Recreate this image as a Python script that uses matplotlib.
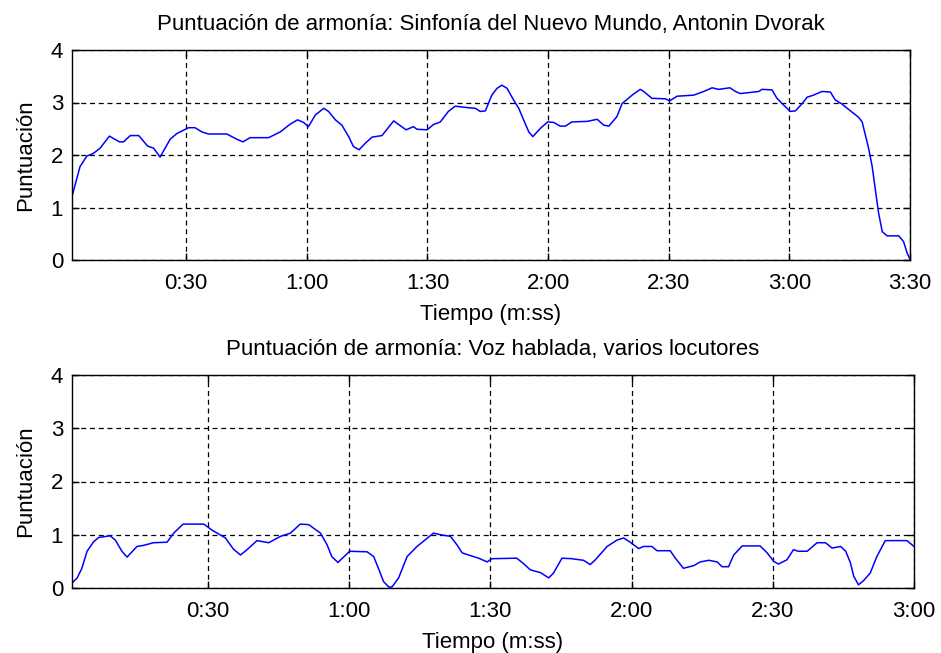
import matplotlib
matplotlib.use("Agg")
import matplotlib.pyplot as plt
from matplotlib.ticker import FuncFormatter

plt.rcParams['font.family'] = ['Liberation Sans', 'DejaVu Sans']

# Sinfonía del Nuevo Mundo (tiempo en segundos, puntuación)
t_sinf = [1.7, 3.6, 5.3, 6.9, 8.6, 10.9, 13.4, 14.4, 16.1, 18.2, 20.4, 21.9, 23.5,
          25.2, 26.0, 27.7, 30.6, 32.2, 33.9, 35.5, 40.1, 42.6, 44.1, 45.9, 50.5,
          53.4, 55.9, 57.7, 59.2, 60.4, 62.1, 64.2, 65.4, 67.1, 68.7, 70.4, 71.6,
          73.0, 74.5, 76.2, 78.7, 81.6, 83.2, 84.7, 86.5, 87.4, 89.9, 91.5, 93.2,
          95.2, 96.9, 100.2, 101.9, 103.1, 104.4, 106.0, 107.3, 108.5, 109.8, 111.4,
          112.7, 113.9, 115.2, 116.2, 118.1, 119.9, 121.4, 123.0, 124.3, 125.9,
          129.7, 132.2, 133.8, 135.1, 137.1, 138.4, 140.9, 142.9, 143.8, 145.8,
          149.2, 150.2, 152.1, 156.2, 158.7, 160.8, 162.4, 165.2, 166.6, 167.8,
          172.4, 173.2, 175.7, 176.9, 178.6, 180.2, 181.5, 183.2, 184.4, 186.0,
          188.1, 190.2, 191.4, 193.1, 194.7, 197.2, 198.1, 198.9, 199.7, 200.6,
          201.4, 202.2, 203.1, 204.3, 207.2, 208.4, 209.3, 209.9]
p_sinf = [1.24, 1.78, 1.98, 2.03, 2.13, 2.36, 2.25, 2.25, 2.37, 2.37, 2.17, 2.13, 1.96,
          2.19, 2.30, 2.41, 2.52, 2.52, 2.44, 2.40, 2.40, 2.30, 2.25, 2.33, 2.33,
          2.44, 2.59, 2.67, 2.62, 2.54, 2.76, 2.89, 2.83, 2.67, 2.57, 2.35, 2.16,
          2.10, 2.22, 2.34, 2.37, 2.65, 2.56, 2.48, 2.54, 2.49, 2.48, 2.58, 2.63,
          2.83, 2.93, 2.90, 2.89, 2.83, 2.84, 3.14, 3.27, 3.33, 3.27, 3.05,
          2.89, 2.67, 2.44, 2.35, 2.51, 2.63, 2.62, 2.55, 2.55, 2.63,
          2.64, 2.68, 2.57, 2.55, 2.73, 2.98, 3.14, 3.25, 3.21, 3.08,
          3.07, 3.03, 3.12, 3.14, 3.21, 3.28, 3.25, 3.28, 3.21, 3.17,
          3.21, 3.25, 3.24, 3.08, 2.95, 2.83, 2.84, 2.98, 3.10, 3.14,
          3.21, 3.20, 3.05, 2.97, 2.87, 2.72, 2.63, 2.38, 2.13, 1.78,
          1.33, 0.89, 0.54, 0.46, 0.46, 0.35, 0.13, 0.03]

# Voz hablada, varios locutores
t_voz = [1.2, 2.2, 3.2, 4.3, 5.7, 6.8, 9.2, 10.3, 11.7, 12.8, 14.9, 16.3, 18.4, 21.3,
         22.7, 24.7, 29.1, 30.8, 33.7, 35.4, 36.9, 38.3, 40.4, 42.9, 45.4, 47.5,
         49.6, 51.4, 53.9, 55.3, 56.3, 57.6, 60.1, 63.8, 65.2, 66.2, 67.3, 68.4,
         69.1, 70.5, 72.3, 74.4, 77.9, 79.4, 81.5, 82.9, 84.0, 85.7, 87.5, 89.3,
         90.3, 95.6, 97.0, 98.5, 100.6, 102.4, 103.4, 105.2, 107.3, 109.8, 111.2,
         112.3, 114.8, 116.9, 118.3, 119.7, 121.5, 122.5, 124.3, 125.4, 128.2,
         129.3, 131.0, 133.2, 134.6, 136.4, 138.2, 139.2, 140.6, 141.7, 143.5,
         147.3, 148.8, 150.2, 151.2, 153.0, 154.4, 155.4, 157.3, 159.4, 161.2,
         162.6, 164.4, 165.5, 166.5, 167.2, 168.2, 169.3, 170.7, 172.1, 173.9,
         178.5, 180.0]
p_voz = [0.10, 0.19, 0.37, 0.69, 0.87, 0.95, 0.98, 0.90, 0.69, 0.58, 0.78, 0.80, 0.85, 0.86,
         1.03, 1.20, 1.20, 1.09, 0.94, 0.73, 0.62, 0.72, 0.89, 0.85, 0.97, 1.03,
         1.20, 1.19, 1.03, 0.81, 0.59, 0.48, 0.69, 0.68, 0.59, 0.37, 0.12, 0.02,
         0.02, 0.19, 0.59, 0.78, 1.03, 1.00, 0.97, 0.81, 0.66, 0.61, 0.56, 0.49,
         0.55, 0.56, 0.46, 0.34, 0.29, 0.19, 0.28, 0.56, 0.55, 0.52, 0.44,
         0.53, 0.78, 0.90, 0.94, 0.86, 0.74, 0.78, 0.78, 0.70, 0.70,
         0.56, 0.37, 0.42, 0.49, 0.52, 0.49, 0.40, 0.40, 0.62, 0.79,
         0.79, 0.66, 0.50, 0.45, 0.53, 0.72, 0.69, 0.69, 0.85, 0.85,
         0.75, 0.78, 0.69, 0.47, 0.22, 0.06, 0.14, 0.28, 0.59, 0.89,
         0.89, 0.78]

ticks_sinf = [30, 60, 90, 120, 150, 180, 210]
ticks_voz = [30, 60, 90, 120, 150, 180]
yticks = [0, 1, 2, 3, 4]

FS = 16


def mmss(s, pos):
    s = int(round(s))
    return "%d:%02d" % (s // 60, s % 60)


def panel(ax, t, p, ticks, title):
    ax.plot(t, p, color="#0000ff", linewidth=1.1)
    ax.set_xlim(t[0] - 0.1, ticks[-1])
    ax.set_ylim(0, 4)
    ax.set_xticks(ticks)
    ax.set_yticks(yticks)
    ax.xaxis.set_major_formatter(FuncFormatter(mmss))
    ax.grid(True, color="black", linestyle=(0, (4, 3)), linewidth=0.9)
    ax.tick_params(direction="in", top=True, right=True, length=5,
                   labelsize=FS, width=1)
    ax.tick_params(axis="x", pad=9.4)
    ax.tick_params(axis="y", pad=6.3)
    for sp in ax.spines.values():
        sp.set_linewidth(1.0)
    ax.set_title(title, fontsize=FS, pad=14.4)
    ax.set_xlabel("Tiempo (m:ss)", fontsize=FS, labelpad=7)
    ax.set_ylabel("Puntuación", fontsize=FS, labelpad=10.5)


fig = plt.figure(figsize=(9.41, 6.53), dpi=100)
ax1 = fig.add_axes([72 / 941, 1 - 260 / 653, 838 / 941, 210 / 653])
ax2 = fig.add_axes([72 / 941, 1 - 588 / 653, 842 / 941, 213 / 653])

panel(ax1, t_sinf, p_sinf, ticks_sinf,
      "Puntuación de armonía: Sinfonía del Nuevo Mundo, Antonin Dvorak")
panel(ax2, t_voz, p_voz, ticks_voz,
      "Puntuación de armonía: Voz hablada, varios locutores")

fig.savefig("out.png", dpi=100)
